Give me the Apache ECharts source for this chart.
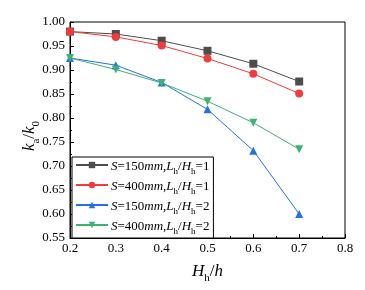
<!DOCTYPE html>
<html><head><meta charset="utf-8">
<script src="https://cdn.jsdelivr.net/npm/echarts@6/dist/echarts.min.js"></script>
<style>html,body{margin:0;padding:0;background:#fff}#c{width:365px;height:290px}</style>
</head><body><div id="c"></div>
<script>
const xValues = [0.2, 0.3, 0.4, 0.5, 0.6, 0.7];
const s150L1 = [0.980, 0.975, 0.961, 0.940, 0.913, 0.876];
const s400L1 = [0.980, 0.969, 0.951, 0.924, 0.892, 0.851];
const s150L2 = [0.925, 0.910, 0.874, 0.818, 0.732, 0.600];
const s400L2 = [0.925, 0.901, 0.873, 0.835, 0.790, 0.735];
const seriesNames = ['a', 'b', 'c', 'd'];
const legendLabels = {
  a: '{i|S}{n|=150}{i|mm}{n|,}{i|L}{s|h}{n|/}{i|H}{s|h}{n|=1}',
  b: '{i|S}{n|=400}{i|mm}{n|,}{i|L}{s|h}{n|/}{i|H}{s|h}{n|=1}',
  c: '{i|S}{n|=150}{i|mm}{n|,}{i|L}{s|h}{n|/}{i|H}{s|h}{n|=2}',
  d: '{i|S}{n|=400}{i|mm}{n|,}{i|L}{s|h}{n|/}{i|H}{s|h}{n|=2}'
};
const colors = ['#4d4d4d', '#f23b3b', '#2470e6', '#3cb371'];
const symbols = ['rect', 'circle', 'triangle', 'path://M0,0 L10,0 L5,9 Z'];
const allData = [s150L1, s400L1, s150L2, s400L2];
const F = 'Liberation Serif';
const chart = echarts.init(document.getElementById('c'));
const rich = {
  i: {fontFamily: F, fontStyle: 'italic', fontSize: 13, color: '#000', lineHeight: 16, verticalAlign: 'bottom'},
  n: {fontFamily: F, fontSize: 13, color: '#000', lineHeight: 16, verticalAlign: 'bottom'},
  s: {fontFamily: F, fontSize: 9, color: '#000', lineHeight: 14, verticalAlign: 'bottom', padding: [0,0,-3,0]}
};
chart.setOption({
  animation: false,
  color: colors,
  grid: {left: 70, right: 20, top: 22, bottom: 52, show: true, borderColor: '#000', borderWidth: 1},
  legend: {
    orient: 'vertical', left: 72, top: 157,
    itemWidth: 32, itemHeight: 8, itemGap: 4,
    borderColor: '#000', borderWidth: 1, borderRadius: 0,
    backgroundColor: '#fff', padding: [3, 4, 2, 3],
    formatter: n => legendLabels[n],
    textStyle: {rich: rich, padding: [0,0,0,-2]}
  },
  xAxis: {
    type: 'value', min: 0.2, max: 0.8, interval: 0.1,
    axisLine: {lineStyle: {color: '#000'}},
    axisTick: {inside: true, length: 4, lineStyle: {color: '#000'}},
    minorTick: {show: true, splitNumber: 2, length: 2, lineStyle: {color: '#000'}},
    splitLine: {show: false},
    axisLabel: {fontFamily: F, fontSize: 13, color: '#000', margin: 4, formatter: v => v.toFixed(1)},
    name: '{i|H}{s|h}{n|/}{i|h}', nameLocation: 'middle', nameGap: 22, nameMoveOverlap: false,
    nameTextStyle: {rich: {
      i: {fontFamily: F, fontStyle: 'italic', fontSize: 17, color: '#000', lineHeight: 20, verticalAlign: 'bottom'},
      n: {fontFamily: F, fontSize: 17, color: '#000', lineHeight: 20, verticalAlign: 'bottom'},
      s: {fontFamily: F, fontSize: 11, color: '#000', lineHeight: 16, verticalAlign: 'bottom', padding: [0,0,-4,0]}
    }}
  },
  yAxis: {
    type: 'value', min: 0.55, max: 1.0, interval: 0.05,
    axisLine: {show: true, lineStyle: {color: '#000'}},
    axisTick: {show: true, inside: true, length: 4, lineStyle: {color: '#000'}},
    minorTick: {show: true, splitNumber: 2, length: 2, lineStyle: {color: '#000'}},
    splitLine: {show: false},
    axisLabel: {fontFamily: F, fontSize: 13, color: '#000', margin: 5, formatter: v => v.toFixed(2)},
    name: '{i|k}{s|a}{n|/}{i|k}{s|0}', nameLocation: 'middle', nameGap: 32, nameRotate: 90, nameMoveOverlap: false,
    nameTextStyle: {padding: [0, 12, 0, 0], rich: {
      i: {fontFamily: F, fontStyle: 'italic', fontSize: 17, color: '#000', lineHeight: 20, verticalAlign: 'bottom'},
      n: {fontFamily: F, fontSize: 17, color: '#000', lineHeight: 20, verticalAlign: 'bottom'},
      s: {fontFamily: F, fontSize: 11, color: '#000', lineHeight: 16, verticalAlign: 'bottom', padding: [0,0,-4,0]}
    }}
  },
  series: seriesNames.map((n, k) => ({
    name: n, type: 'line',
    data: xValues.map((x, i) => [x, allData[k][i]]),
    symbol: symbols[k], symbolSize: 8,
    lineStyle: {width: 1},
    itemStyle: {color: colors[k]}
  }))
});
</script></body></html>
